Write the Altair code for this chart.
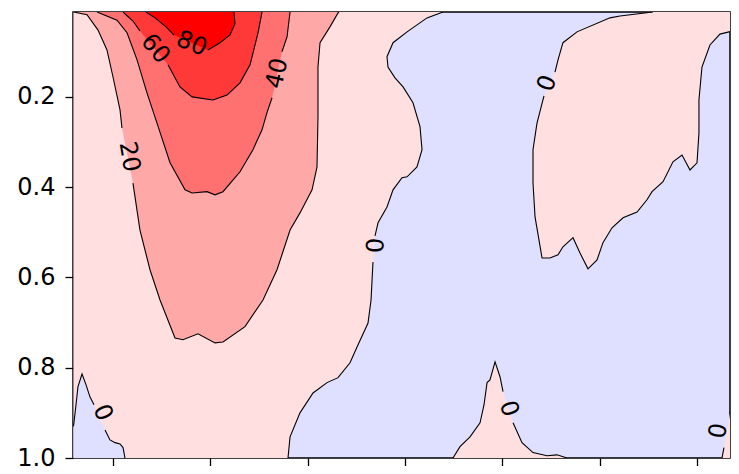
import altair as alt
import pandas as pd

# ---- data extent and visible axis range ----
X_MIN, X_MAX = -40.6, 640.6          # data frame edges
VIEW_X = [-41.1, 633.9]              # visible x range
Y_MIN, Y_MAX = 0.012, 1.0
x_ticks = [0, 100, 200, 300, 400, 500, 600]
y_ticks = [0.2, 0.4, 0.6, 0.8, 1.0]

# ---- fill colours per contour band ----
col_neg = "#dfdfff"   # < 0
col_0 = "#ffdfdf"     # 0-20
col_20 = "#ffa8a8"    # 20-40
col_40 = "#ff7070"    # 40-60
col_60 = "#ff3838"    # 60-80
col_80 = "#ff0000"    # > 80

# ---- contour lines (segments split at the labels) ----
c0_main = [
    [(339.0, 0.012), (322.6, 0.025), (302.1, 0.056), (287.7, 0.080), (281.5, 0.111),
     (282.5, 0.134), (289.7, 0.158), (298.0, 0.178), (308.2, 0.213), (315.4, 0.266),
     (317.5, 0.317), (312.3, 0.355), (302.1, 0.377), (296.9, 0.379), (287.7, 0.406),
     (281.5, 0.444), (272.3, 0.479), (269.2, 0.508)],
    [(267.1, 0.566), (265.1, 0.650), (262.0, 0.701), (250.7, 0.754), (243.5, 0.789),
     (231.2, 0.822), (219.9, 0.833), (205.5, 0.856), (192.1, 0.900), (181.9, 0.953),
     (179.8, 1.0)],
]
c0_ne = [
    [(554.8, 0.012), (520.9, 0.021), (510.6, 0.025), (476.7, 0.056), (462.3, 0.080),
     (457.2, 0.118), (454.1, 0.145)],
    [(442.8, 0.198), (435.6, 0.258), (431.5, 0.317), (431.5, 0.391), (433.6, 0.466),
     (440.8, 0.557), (449.0, 0.557), (457.2, 0.550), (462.3, 0.532), (472.6, 0.512),
     (479.8, 0.546), (488.0, 0.581), (497.3, 0.561), (503.4, 0.523), (512.7, 0.490),
     (524.0, 0.468), (538.4, 0.455), (548.6, 0.428), (553.8, 0.410), (565.1, 0.388),
     (575.3, 0.344), (584.6, 0.329), (592.8, 0.362), (600.0, 0.346), (602.0, 0.280),
     (602.0, 0.207), (605.1, 0.134), (613.3, 0.085), (623.6, 0.061), (637.0, 0.054),
     (640.6, 0.054)],
]
c0_sw = [
    [(-40.6, 0.930), (-38.0, 0.882), (-36.0, 0.842), (-31.8, 0.814), (-27.7, 0.838),
     (-23.6, 0.865), (-19.5, 0.882)],
    [(-8.2, 0.938), (-3.1, 0.960), (2.1, 0.966), (7.2, 0.969), (10.3, 0.977), (12.3, 1.0)],
]
c0_s = [
    [(349.3, 1.0), (356.5, 0.975), (366.8, 0.953), (377.1, 0.922), (381.2, 0.882),
     (384.3, 0.833), (387.3, 0.827), (392.5, 0.787), (397.6, 0.820), (400.7, 0.853)],
    [(411.0, 0.922), (420.2, 0.966), (431.5, 0.988), (445.9, 0.995), (456.2, 0.993),
     (466.4, 1.0)],
]
c0_se = [
    [(640.6, 0.822), (637.0, 0.860), (633.9, 0.902)],
    [(627.7, 0.977), (625.7, 1.0)],
]
c20 = [
    [(-40.6, 0.012), (-26.7, 0.018), (-15.4, 0.052), (-6.2, 0.096), (0.0, 0.156),
     (7.2, 0.229), (9.2, 0.269)],
    [(20.5, 0.391), (27.7, 0.495), (38.0, 0.583), (48.3, 0.650), (63.7, 0.734),
     (71.9, 0.738), (87.3, 0.725), (104.8, 0.745), (113.0, 0.743), (135.6, 0.709),
     (154.1, 0.650), (168.5, 0.583), (181.9, 0.495), (192.1, 0.457), (204.5, 0.406),
     (209.6, 0.355), (210.6, 0.244), (210.6, 0.134), (212.7, 0.080), (222.9, 0.045),
     (231.2, 0.014), (232.2, 0.012)],
]
c40 = [
    [(-16.4, 0.012), (4.1, 0.030), (14.4, 0.058), (24.7, 0.118), (34.9, 0.191),
     (45.2, 0.258), (58.6, 0.346), (74.0, 0.406), (81.2, 0.413), (96.6, 0.410),
     (104.8, 0.417), (113.0, 0.410), (130.5, 0.366), (143.8, 0.317), (153.1, 0.273),
     (158.2, 0.235), (163.4, 0.202)],
    [(173.6, 0.100), (178.8, 0.067), (181.9, 0.012)],
]
c60 = [
    [(10.3, 0.012), (20.5, 0.032), (27.7, 0.054)],
    [(56.5, 0.129), (68.8, 0.178), (81.2, 0.200), (102.7, 0.207), (117.1, 0.196),
     (130.5, 0.169), (140.8, 0.129), (149.0, 0.058), (153.1, 0.012)],
]
c80 = [
    [(33.9, 0.012), (43.2, 0.025), (54.5, 0.045), (62.7, 0.063)],
    [(97.6, 0.096), (109.9, 0.080), (120.2, 0.063), (125.3, 0.038), (124.3, 0.012)],
]

# frame corners that close each filled band
close_main = [(X_MIN, Y_MAX), (X_MIN, Y_MIN)]
close_ne = [(X_MAX, Y_MIN)]
close_sw = [(X_MIN, Y_MAX)]
close_se = [(X_MAX, Y_MAX)]

# ---- contour labels ----
lab_text = ["20", "40", "60", "80", "0", "0", "0", "0", "0"]
lab_x = [16.4, 169.0, 43.2, 80.7, 267.1, 446.4, -10.8, 406.4, 619.0]
lab_y = [0.333, 0.148, 0.094, 0.083, 0.529, 0.170, 0.900, 0.891, 0.939]
lab_angle = [80, 283, 50, 22, 92, 290, 67, 72, 99]

FONT = "DejaVu Sans"

xs = alt.Scale(domain=VIEW_X, nice=False, zero=False)
ys = alt.Scale(domain=[Y_MIN, Y_MAX], nice=False, zero=False, reverse=True)
x_axis = alt.Axis(values=x_ticks, labels=False, ticks=True, tickSize=8, domain=False,
                  grid=False, title=None, tickColor="black", tickWidth=1.3)
y_axis = alt.Axis(values=y_ticks, format=".1f", tickSize=8, domain=False, grid=False,
                  title=None, labelFont=FONT, labelFontSize=24, labelColor="black",
                  labelPadding=10, tickColor="black", tickWidth=1.3)
x_enc = alt.X("x:Q", scale=xs, axis=x_axis)
y_enc = alt.Y("y:Q", scale=ys, axis=y_axis)


def poly_df(segments, extra):
    pts = [p for seg in segments for p in seg] + list(extra)
    return pd.DataFrame({"x": [p[0] for p in pts], "y": [p[1] for p in pts],
                         "i": list(range(len(pts)))})


def fill_layer(segments, extra, color):
    return alt.Chart(poly_df(segments, extra)).mark_line(
        clip=True, strokeWidth=0, interpolate="linear"
    ).encode(x=x_enc, y=y_enc, order="i:Q", fill=alt.value(color))


line_rows = []
for name, segs in [("c0_main", c0_main), ("c0_ne", c0_ne), ("c0_sw", c0_sw),
                   ("c0_s", c0_s), ("c0_se", c0_se), ("c20", c20), ("c40", c40),
                   ("c60", c60), ("c80", c80)]:
    for s, seg in enumerate(segs):
        for i, (x, y) in enumerate(seg):
            line_rows.append({"x": x, "y": y, "seg": f"{name}-{s}", "i": i})
lines_df = pd.DataFrame(line_rows)

labels_df = pd.DataFrame({"x": lab_x, "y": lab_y, "label": lab_text, "angle": lab_angle})

layers = [
    fill_layer(c0_main, close_main, col_0),
    fill_layer(c0_ne, close_ne, col_0),
    fill_layer(c0_s, [], col_0),
    fill_layer(c0_se, close_se, col_0),
    fill_layer(c0_sw, close_sw, col_neg),
    fill_layer(c20, [], col_20),
    fill_layer(c40, [], col_40),
    fill_layer(c60, [], col_60),
    fill_layer(c80, [], col_80),
    alt.Chart(lines_df).mark_line(color="black", strokeWidth=1.1, clip=True).encode(
        x=x_enc, y=y_enc, detail="seg:N", order="i:Q"),
    alt.Chart(labels_df).mark_text(font=FONT, fontSize=24, color="black",
                                   align="center", baseline="middle").encode(
        x=x_enc, y=y_enc, text="label:N", angle=alt.Angle("angle:Q", scale=None)),
]

chart = alt.layer(*layers).properties(
    width=657, height=446,
    padding={"left": 65, "top": 4, "right": 1, "bottom": 8},
    autosize=alt.AutoSizeParams(type="none"),
).configure_view(
    fill=col_neg, stroke="black", strokeWidth=1.5
)

chart.save("out.html", embed_options={"renderer": "svg", "actions": False})
